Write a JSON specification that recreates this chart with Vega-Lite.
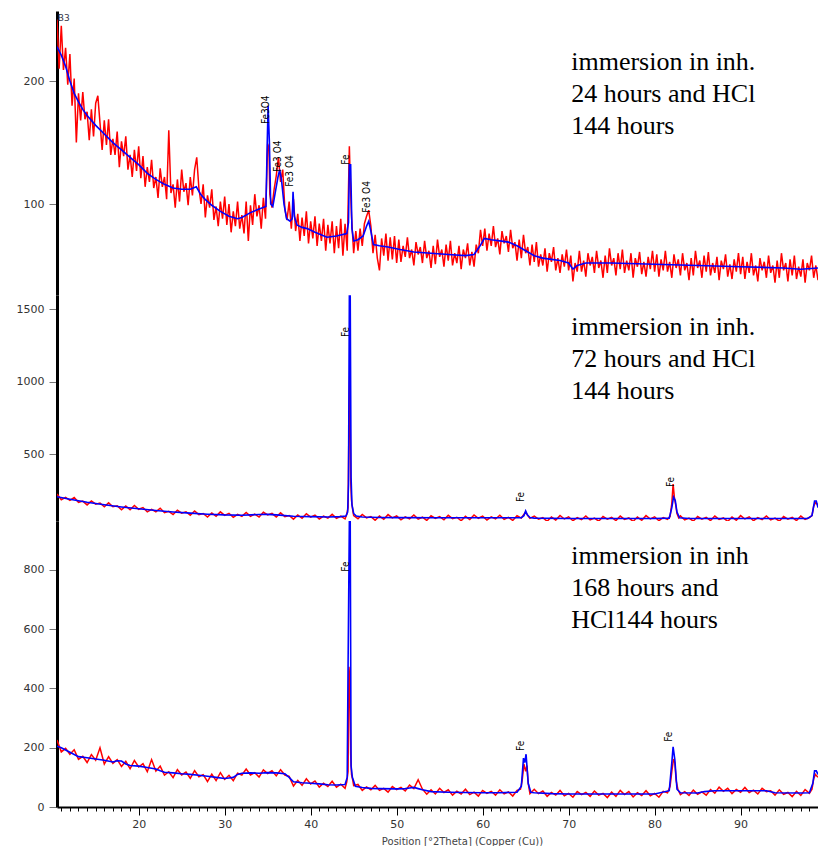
{
"$schema": "https://vega.github.io/schema/vega-lite/v6.json",
"padding": {"left": 16, "top": 11, "right": 0, "bottom": 0},
"spacing": 0,
"bounds": "flush",
"config": {"view": {"stroke": null}, "axis": {"grid": false}},
"datasets": {
"p1r": [{"x":10.5,"y":250},{"x":10.75,"y":210},{"x":11,"y":245},{"x":11.25,"y":209},{"x":11.5,"y":227},{"x":11.75,"y":197},{"x":12,"y":222},{"x":12.25,"y":180},{"x":12.5,"y":202},{"x":12.75,"y":150},{"x":13,"y":190},{"x":13.25,"y":168},{"x":13.5,"y":191},{"x":13.75,"y":169},{"x":14,"y":175},{"x":14.25,"y":152},{"x":14.5,"y":177},{"x":14.75,"y":155},{"x":15,"y":182},{"x":15.25,"y":188},{"x":15.5,"y":166},{"x":15.75,"y":144},{"x":16,"y":168},{"x":16.25,"y":148},{"x":16.5,"y":169},{"x":16.75,"y":140},{"x":17,"y":153},{"x":17.25,"y":140},{"x":17.5,"y":159},{"x":17.75,"y":130},{"x":18,"y":151},{"x":18.25,"y":139},{"x":18.5,"y":155},{"x":18.75,"y":128},{"x":19,"y":140},{"x":19.25,"y":122},{"x":19.5,"y":144},{"x":19.75,"y":127},{"x":20,"y":147},{"x":20.25,"y":121},{"x":20.5,"y":139},{"x":20.75,"y":114},{"x":21,"y":130},{"x":21.25,"y":118},{"x":21.5,"y":136},{"x":21.75,"y":113},{"x":22,"y":122},{"x":22.25,"y":105},{"x":22.5,"y":129},{"x":22.75,"y":114},{"x":23,"y":122},{"x":23.25,"y":104},{"x":23.5,"y":160},{"x":23.75,"y":109},{"x":24,"y":116},{"x":24.25,"y":97},{"x":24.5,"y":120},{"x":24.75,"y":102},{"x":25,"y":128},{"x":25.25,"y":110},{"x":25.5,"y":117},{"x":25.75,"y":99},{"x":26,"y":122},{"x":26.25,"y":107},{"x":26.5,"y":128},{"x":26.75,"y":138},{"x":27,"y":113},{"x":27.25,"y":100},{"x":27.5,"y":116},{"x":27.75,"y":89},{"x":28,"y":107},{"x":28.25,"y":97},{"x":28.5,"y":112},{"x":28.75,"y":87},{"x":29,"y":98},{"x":29.25,"y":82},{"x":29.5,"y":102},{"x":29.75,"y":88},{"x":30,"y":106},{"x":30.25,"y":83},{"x":30.5,"y":100},{"x":30.75,"y":77},{"x":31,"y":94},{"x":31.25,"y":82},{"x":31.5,"y":102},{"x":31.75,"y":80},{"x":32,"y":91},{"x":32.25,"y":76},{"x":32.5,"y":102},{"x":32.75,"y":70},{"x":33,"y":99},{"x":33.25,"y":83},{"x":33.5,"y":108},{"x":33.75,"y":90},{"x":34,"y":99},{"x":34.25,"y":80},{"x":34.5,"y":105},{"x":34.75,"y":88},{"x":35,"y":149},{"x":35.15,"y":145},{"x":35.25,"y":108},{"x":35.5,"y":97},{"x":35.75,"y":112},{"x":36,"y":123},{"x":36.25,"y":138},{"x":36.5,"y":118},{"x":36.75,"y":128},{"x":37,"y":96},{"x":37.25,"y":87},{"x":37.5,"y":102},{"x":37.75,"y":80},{"x":38,"y":104},{"x":38.25,"y":78},{"x":38.5,"y":92},{"x":38.75,"y":70},{"x":39,"y":89},{"x":39.25,"y":74},{"x":39.5,"y":94},{"x":39.75,"y":68},{"x":40,"y":86},{"x":40.25,"y":72},{"x":40.5,"y":90},{"x":40.75,"y":66},{"x":41,"y":84},{"x":41.25,"y":70},{"x":41.5,"y":88},{"x":41.75,"y":62},{"x":42,"y":83},{"x":42.25,"y":68},{"x":42.5,"y":86},{"x":42.75,"y":60},{"x":43,"y":82},{"x":43.25,"y":64},{"x":43.5,"y":88},{"x":43.75,"y":58},{"x":44,"y":84},{"x":44.25,"y":62},{"x":44.5,"y":147},{"x":44.6,"y":120},{"x":44.75,"y":90},{"x":45,"y":60},{"x":45.25,"y":78},{"x":45.5,"y":62},{"x":45.75,"y":80},{"x":46,"y":66},{"x":46.25,"y":84},{"x":46.5,"y":90},{"x":46.75,"y":95},{"x":47,"y":82},{"x":47.25,"y":60},{"x":47.5,"y":75},{"x":47.75,"y":56},{"x":48,"y":46},{"x":48.25,"y":72},{"x":48.5,"y":58},{"x":48.75,"y":76},{"x":49,"y":54},{"x":49.25,"y":73},{"x":49.5,"y":55},{"x":49.75,"y":74},{"x":50,"y":52},{"x":50.25,"y":71},{"x":50.5,"y":53},{"x":50.75,"y":66},{"x":51,"y":57},{"x":51.25,"y":73},{"x":51.5,"y":56},{"x":51.75,"y":63},{"x":52,"y":50},{"x":52.25,"y":69},{"x":52.5,"y":59},{"x":52.75,"y":65},{"x":53,"y":52},{"x":53.25,"y":70},{"x":53.5,"y":56},{"x":53.75,"y":62},{"x":54,"y":48},{"x":54.25,"y":66},{"x":54.5,"y":51},{"x":54.75,"y":71},{"x":55,"y":57},{"x":55.25,"y":63},{"x":55.5,"y":49},{"x":55.75,"y":67},{"x":56,"y":54},{"x":56.25,"y":70},{"x":56.5,"y":50},{"x":56.75,"y":60},{"x":57,"y":52},{"x":57.25,"y":66},{"x":57.5,"y":47},{"x":57.75,"y":63},{"x":58,"y":56},{"x":58.25,"y":68},{"x":58.5,"y":50},{"x":58.75,"y":61},{"x":59,"y":49},{"x":59.25,"y":67},{"x":59.5,"y":60},{"x":59.75,"y":79},{"x":60,"y":66},{"x":60.25,"y":80},{"x":60.5,"y":62},{"x":60.75,"y":76},{"x":61,"y":66},{"x":61.25,"y":82},{"x":61.5,"y":65},{"x":61.75,"y":72},{"x":62,"y":59},{"x":62.25,"y":78},{"x":62.5,"y":68},{"x":62.75,"y":74},{"x":63,"y":61},{"x":63.25,"y":79},{"x":63.5,"y":64},{"x":63.75,"y":69},{"x":64,"y":54},{"x":64.25,"y":71},{"x":64.5,"y":56},{"x":64.75,"y":75},{"x":65,"y":60},{"x":65.25,"y":65},{"x":65.5,"y":50},{"x":65.75,"y":67},{"x":66,"y":53},{"x":66.25,"y":69},{"x":66.5,"y":49},{"x":66.75,"y":59},{"x":67,"y":50},{"x":67.25,"y":64},{"x":67.5,"y":45},{"x":67.75,"y":60},{"x":68,"y":53},{"x":68.25,"y":65},{"x":68.5,"y":46},{"x":68.75,"y":56},{"x":69,"y":44},{"x":69.25,"y":59},{"x":69.5,"y":49},{"x":69.75,"y":63},{"x":70,"y":46},{"x":70.25,"y":58},{"x":70.5,"y":37},{"x":70.75,"y":52},{"x":71,"y":45},{"x":71.25,"y":62},{"x":71.5,"y":45},{"x":71.75,"y":54},{"x":72,"y":41},{"x":72.25,"y":60},{"x":72.5,"y":50},{"x":72.75,"y":57},{"x":73,"y":44},{"x":73.25,"y":62},{"x":73.5,"y":48},{"x":73.75,"y":54},{"x":74,"y":40},{"x":74.25,"y":58},{"x":74.5,"y":44},{"x":74.75,"y":64},{"x":75,"y":50},{"x":75.25,"y":56},{"x":75.5,"y":42},{"x":75.75,"y":60},{"x":76,"y":47},{"x":76.25,"y":63},{"x":76.5,"y":44},{"x":76.75,"y":54},{"x":77,"y":46},{"x":77.25,"y":60},{"x":77.5,"y":40},{"x":77.75,"y":56},{"x":78,"y":49},{"x":78.25,"y":61},{"x":78.5,"y":43},{"x":78.75,"y":53},{"x":79,"y":41},{"x":79.25,"y":57},{"x":79.5,"y":47},{"x":79.75,"y":62},{"x":80,"y":45},{"x":80.25,"y":59},{"x":80.5,"y":41},{"x":80.75,"y":55},{"x":81,"y":46},{"x":81.25,"y":62},{"x":81.5,"y":45},{"x":81.75,"y":53},{"x":82,"y":40},{"x":82.25,"y":59},{"x":82.5,"y":48},{"x":82.75,"y":55},{"x":83,"y":42},{"x":83.25,"y":60},{"x":83.5,"y":46},{"x":83.75,"y":52},{"x":84,"y":38},{"x":84.25,"y":56},{"x":84.5,"y":42},{"x":84.75,"y":62},{"x":85,"y":48},{"x":85.25,"y":54},{"x":85.5,"y":40},{"x":85.75,"y":58},{"x":86,"y":45},{"x":86.25,"y":61},{"x":86.5,"y":42},{"x":86.75,"y":52},{"x":87,"y":44},{"x":87.25,"y":57},{"x":87.5,"y":38},{"x":87.75,"y":54},{"x":88,"y":47},{"x":88.25,"y":59},{"x":88.5,"y":41},{"x":88.75,"y":51},{"x":89,"y":39},{"x":89.25,"y":55},{"x":89.5,"y":45},{"x":89.75,"y":60},{"x":90,"y":43},{"x":90.25,"y":57},{"x":90.5,"y":39},{"x":90.75,"y":53},{"x":91,"y":44},{"x":91.25,"y":60},{"x":91.5,"y":42},{"x":91.75,"y":50},{"x":92,"y":37},{"x":92.25,"y":56},{"x":92.5,"y":46},{"x":92.75,"y":53},{"x":93,"y":40},{"x":93.25,"y":58},{"x":93.5,"y":44},{"x":93.75,"y":50},{"x":94,"y":36},{"x":94.25,"y":54},{"x":94.5,"y":40},{"x":94.75,"y":60},{"x":95,"y":46},{"x":95.25,"y":52},{"x":95.5,"y":37},{"x":95.75,"y":55},{"x":96,"y":42},{"x":96.25,"y":58},{"x":96.5,"y":39},{"x":96.75,"y":49},{"x":97,"y":41},{"x":97.25,"y":55},{"x":97.5,"y":36},{"x":97.75,"y":52},{"x":98,"y":46},{"x":98.25,"y":58},{"x":98.5,"y":40},{"x":98.75,"y":50},{"x":99,"y":38}],
"p1b": [{"x":10.5,"y":228},{"x":11,"y":221},{"x":11.5,"y":212},{"x":12,"y":200},{"x":12.5,"y":190},{"x":13,"y":183},{"x":13.5,"y":177},{"x":14,"y":172},{"x":15,"y":164},{"x":16,"y":157},{"x":17,"y":150},{"x":18,"y":144},{"x":19,"y":138},{"x":20,"y":132},{"x":21,"y":125},{"x":22,"y":120},{"x":23,"y":116},{"x":24,"y":113},{"x":25,"y":112},{"x":26,"y":112},{"x":26.7,"y":114},{"x":27.2,"y":108},{"x":27.7,"y":104},{"x":28.5,"y":99},{"x":29.5,"y":94},{"x":30.5,"y":90},{"x":31.5,"y":88},{"x":32,"y":89},{"x":33,"y":93},{"x":34,"y":96},{"x":34.8,"y":98},{"x":34.95,"y":150},{"x":35.05,"y":180},{"x":35.2,"y":150},{"x":35.35,"y":100},{"x":35.6,"y":98},{"x":35.9,"y":110},{"x":36.2,"y":122},{"x":36.4,"y":128},{"x":36.6,"y":120},{"x":36.9,"y":100},{"x":37.2,"y":88},{"x":37.6,"y":86},{"x":37.85,"y":88},{"x":37.95,"y":110},{"x":38.1,"y":90},{"x":38.4,"y":83},{"x":39,"y":81},{"x":39.6,"y":80},{"x":40.5,"y":77},{"x":41.9,"y":73},{"x":43,"y":74},{"x":44.2,"y":76},{"x":44.4,"y":85},{"x":44.5,"y":132},{"x":44.65,"y":132},{"x":44.8,"y":80},{"x":45,"y":70},{"x":45.5,"y":71},{"x":46.1,"y":74},{"x":46.5,"y":82},{"x":46.75,"y":86},{"x":47,"y":78},{"x":47.3,"y":67},{"x":48,"y":66},{"x":49,"y":65},{"x":50.4,"y":63},{"x":52,"y":61},{"x":54,"y":60},{"x":56,"y":59},{"x":58,"y":58},{"x":59,"y":59},{"x":59.7,"y":66},{"x":60.2,"y":72},{"x":61,"y":71},{"x":62,"y":70},{"x":63,"y":69},{"x":64,"y":66},{"x":65,"y":62},{"x":66,"y":58},{"x":67,"y":56},{"x":68,"y":55},{"x":69,"y":54},{"x":70,"y":52},{"x":70.5,"y":47},{"x":71,"y":50},{"x":72,"y":52},{"x":75,"y":52},{"x":80,"y":51},{"x":85,"y":50},{"x":90,"y":49},{"x":95,"y":48},{"x":97,"y":47},{"x":99,"y":48}],
"p1l": [{"x":34.8,"y":165,"t":"Fe3O4"},{"x":36.2,"y":126,"t":"Fe3 O4"},{"x":37.6,"y":114,"t":"Fe3 O4"},{"x":44.1,"y":132,"t":"Fe"},{"x":46.5,"y":93,"t":"Fe3 O4"}],
"p1t": [{"x":70.3,"y":208.9,"t":"immersion in inh.\n24 hours and HCl\n144 hours"}],
"p1c": [{"x":10.6,"y":251,"t":"B3"}],
"p2r": [{"x":10.5,"y":224},{"x":11,"y":185},{"x":11.5,"y":201},{"x":12,"y":180},{"x":12.5,"y":200},{"x":13,"y":167},{"x":13.5,"y":175},{"x":14,"y":149},{"x":14.5,"y":176},{"x":15,"y":154},{"x":15.5,"y":162},{"x":16,"y":136},{"x":16.5,"y":163},{"x":17,"y":136},{"x":17.5,"y":143},{"x":18,"y":115},{"x":18.5,"y":142},{"x":19,"y":116},{"x":19.5,"y":145},{"x":20,"y":119},{"x":20.5,"y":131},{"x":21,"y":101},{"x":21.5,"y":119},{"x":22,"y":102},{"x":22.5,"y":126},{"x":23,"y":95},{"x":23.5,"y":105},{"x":24,"y":82},{"x":24.5,"y":112},{"x":25,"y":92},{"x":25.5,"y":102},{"x":26,"y":78},{"x":26.5,"y":107},{"x":27,"y":82},{"x":27.5,"y":90},{"x":28,"y":65},{"x":28.5,"y":93},{"x":29,"y":70},{"x":29.5,"y":101},{"x":30,"y":77},{"x":30.5,"y":91},{"x":31,"y":63},{"x":31.5,"y":84},{"x":32,"y":70},{"x":32.5,"y":97},{"x":33,"y":70},{"x":33.5,"y":85},{"x":34,"y":65},{"x":34.5,"y":98},{"x":35,"y":80},{"x":35.5,"y":91},{"x":36,"y":66},{"x":36.5,"y":94},{"x":37,"y":68},{"x":37.5,"y":76},{"x":38,"y":51},{"x":38.5,"y":80},{"x":39,"y":57},{"x":39.5,"y":88},{"x":40,"y":65},{"x":40.5,"y":79},{"x":41,"y":52},{"x":41.5,"y":72},{"x":42,"y":58},{"x":42.5,"y":84},{"x":43,"y":57},{"x":43.5,"y":71},{"x":44,"y":52},{"x":44.2,"y":85},{"x":44.35,"y":130},{"x":44.45,"y":700},{"x":44.55,"y":1100},{"x":44.65,"y":320},{"x":44.75,"y":180},{"x":44.9,"y":110},{"x":45,"y":75},{"x":45.5,"y":54},{"x":46,"y":83},{"x":46.5,"y":59},{"x":47,"y":68},{"x":47.5,"y":43},{"x":48,"y":72},{"x":48.5,"y":50},{"x":49,"y":82},{"x":49.5,"y":59},{"x":50,"y":73},{"x":50.5,"y":46},{"x":51,"y":67},{"x":51.5,"y":53},{"x":52,"y":79},{"x":52.5,"y":51},{"x":53,"y":64},{"x":53.5,"y":42},{"x":54,"y":74},{"x":54.5,"y":56},{"x":55,"y":68},{"x":55.5,"y":46},{"x":56,"y":77},{"x":56.5,"y":54},{"x":57,"y":64},{"x":57.5,"y":40},{"x":58,"y":70},{"x":58.5,"y":48},{"x":59,"y":80},{"x":59.5,"y":57},{"x":60,"y":72},{"x":60.5,"y":45},{"x":61,"y":66},{"x":61.5,"y":52},{"x":62,"y":78},{"x":62.5,"y":50},{"x":63,"y":63},{"x":63.5,"y":42},{"x":64,"y":74},{"x":64.5,"y":58},{"x":64.75,"y":80},{"x":65,"y":100},{"x":65.25,"y":75},{"x":65.5,"y":56},{"x":66,"y":72},{"x":66.5,"y":51},{"x":67,"y":61},{"x":67.5,"y":36},{"x":68,"y":66},{"x":68.5,"y":44},{"x":69,"y":76},{"x":69.5,"y":52},{"x":70,"y":67},{"x":70.5,"y":40},{"x":71,"y":61},{"x":71.5,"y":47},{"x":72,"y":73},{"x":72.5,"y":45},{"x":73,"y":58},{"x":73.5,"y":37},{"x":74,"y":69},{"x":74.5,"y":51},{"x":75,"y":63},{"x":75.5,"y":41},{"x":76,"y":72},{"x":76.5,"y":49},{"x":77,"y":59},{"x":77.5,"y":35},{"x":78,"y":65},{"x":78.5,"y":43},{"x":79,"y":75},{"x":79.5,"y":52},{"x":80,"y":67},{"x":80.5,"y":40},{"x":81,"y":62},{"x":81.5,"y":50},{"x":81.8,"y":70},{"x":82,"y":160},{"x":82.15,"y":293},{"x":82.3,"y":200},{"x":82.45,"y":150},{"x":82.6,"y":90},{"x":82.8,"y":60},{"x":83,"y":73},{"x":83.5,"y":45},{"x":84,"y":58},{"x":84.5,"y":37},{"x":85,"y":69},{"x":85.5,"y":51},{"x":86,"y":63},{"x":86.5,"y":41},{"x":87,"y":72},{"x":87.5,"y":49},{"x":88,"y":59},{"x":88.5,"y":35},{"x":89,"y":65},{"x":89.5,"y":43},{"x":90,"y":75},{"x":90.5,"y":52},{"x":91,"y":67},{"x":91.5,"y":40},{"x":92,"y":61},{"x":92.5,"y":47},{"x":93,"y":73},{"x":93.5,"y":45},{"x":94,"y":58},{"x":94.5,"y":37},{"x":95,"y":69},{"x":95.5,"y":51},{"x":96,"y":63},{"x":96.5,"y":41},{"x":97,"y":72},{"x":97.5,"y":49},{"x":98,"y":62},{"x":98.3,"y":75},{"x":98.5,"y":140},{"x":98.7,"y":165},{"x":99,"y":150}],
"p2b": [{"x":10.5,"y":205},{"x":12,"y":188},{"x":14,"y":167},{"x":16,"y":150},{"x":18,"y":135},{"x":20,"y":122},{"x":22,"y":110},{"x":24,"y":100},{"x":26,"y":92},{"x":28,"y":85},{"x":30,"y":80},{"x":32,"y":78},{"x":34,"y":83},{"x":35,"y":84},{"x":36,"y":80},{"x":38,"y":71},{"x":40,"y":68},{"x":42,"y":66},{"x":43.5,"y":68},{"x":44.1,"y":72},{"x":44.3,"y":100},{"x":44.4,"y":293},{"x":44.5,"y":1590},{"x":44.6,"y":1590},{"x":44.7,"y":340},{"x":44.8,"y":150},{"x":45,"y":90},{"x":45.3,"y":72},{"x":46,"y":66},{"x":48,"y":62},{"x":50,"y":61},{"x":55,"y":60},{"x":60,"y":60},{"x":64.5,"y":61},{"x":64.8,"y":75},{"x":65,"y":107},{"x":65.2,"y":80},{"x":65.5,"y":62},{"x":66,"y":58},{"x":70,"y":55},{"x":75,"y":55},{"x":80,"y":55},{"x":81.7,"y":58},{"x":82,"y":130},{"x":82.2,"y":203},{"x":82.4,"y":180},{"x":82.6,"y":100},{"x":82.9,"y":60},{"x":84,"y":55},{"x":90,"y":55},{"x":95,"y":55},{"x":97.8,"y":56},{"x":98.3,"y":75},{"x":98.6,"y":176},{"x":98.8,"y":176},{"x":99,"y":130}],
"p2l": [{"x":44.1,"y":1307,"t":"Fe"},{"x":64.5,"y":169,"t":"Fe"},{"x":81.9,"y":272,"t":"Fe"}],
"p2t": [{"x":70.3,"y":1321,"t":"immersion in inh.\n72 hours and HCl\n144 hours"}],
"p3r": [{"x":10.5,"y":226},{"x":11,"y":186},{"x":11.5,"y":198},{"x":12,"y":178},{"x":12.5,"y":193},{"x":13,"y":161},{"x":13.5,"y":171},{"x":14,"y":150},{"x":14.5,"y":177},{"x":15,"y":158},{"x":15.5,"y":200},{"x":16,"y":145},{"x":16.5,"y":170},{"x":17,"y":147},{"x":17.5,"y":160},{"x":18,"y":137},{"x":18.5,"y":154},{"x":19,"y":129},{"x":19.5,"y":157},{"x":20,"y":135},{"x":20.5,"y":146},{"x":21,"y":119},{"x":21.5,"y":160},{"x":22,"y":121},{"x":22.5,"y":138},{"x":23,"y":108},{"x":23.5,"y":119},{"x":24,"y":99},{"x":24.5,"y":126},{"x":25,"y":108},{"x":25.5,"y":118},{"x":26,"y":97},{"x":26.5,"y":123},{"x":27,"y":102},{"x":27.5,"y":109},{"x":28,"y":86},{"x":28.5,"y":111},{"x":29,"y":89},{"x":29.5,"y":116},{"x":30,"y":93},{"x":30.5,"y":107},{"x":31,"y":89},{"x":31.5,"y":114},{"x":32,"y":108},{"x":32.5,"y":128},{"x":33,"y":108},{"x":33.5,"y":116},{"x":34,"y":101},{"x":34.5,"y":125},{"x":35,"y":113},{"x":35.5,"y":122},{"x":36,"y":105},{"x":36.5,"y":126},{"x":37,"y":108},{"x":37.5,"y":103},{"x":38,"y":71},{"x":38.5,"y":90},{"x":39,"y":73},{"x":39.5,"y":95},{"x":40,"y":78},{"x":40.5,"y":88},{"x":41,"y":67},{"x":41.5,"y":80},{"x":42,"y":69},{"x":42.5,"y":87},{"x":43,"y":67},{"x":43.5,"y":77},{"x":44,"y":63},{"x":44.2,"y":85},{"x":44.35,"y":120},{"x":44.45,"y":473},{"x":44.55,"y":432},{"x":44.65,"y":179},{"x":44.75,"y":110},{"x":44.9,"y":90},{"x":45,"y":72},{"x":45.5,"y":76},{"x":46,"y":56},{"x":46.5,"y":68},{"x":47,"y":58},{"x":47.5,"y":73},{"x":48,"y":56},{"x":48.5,"y":63},{"x":49,"y":50},{"x":49.5,"y":69},{"x":50,"y":59},{"x":50.5,"y":66},{"x":51,"y":54},{"x":51.5,"y":74},{"x":52,"y":62},{"x":52.5,"y":92},{"x":53,"y":60},{"x":53.5,"y":43},{"x":54,"y":58},{"x":54.5,"y":44},{"x":55,"y":63},{"x":55.5,"y":49},{"x":56,"y":58},{"x":56.5,"y":40},{"x":57,"y":53},{"x":57.5,"y":44},{"x":58,"y":60},{"x":58.5,"y":42},{"x":59,"y":50},{"x":59.5,"y":37},{"x":60,"y":56},{"x":60.5,"y":46},{"x":61,"y":53},{"x":61.5,"y":40},{"x":62,"y":58},{"x":62.5,"y":44},{"x":63,"y":51},{"x":63.5,"y":37},{"x":64,"y":56},{"x":64.4,"y":60},{"x":64.6,"y":90},{"x":64.8,"y":145},{"x":65,"y":120},{"x":65.15,"y":140},{"x":65.3,"y":80},{"x":65.5,"y":45},{"x":66,"y":60},{"x":66.5,"y":45},{"x":67,"y":54},{"x":67.5,"y":36},{"x":68,"y":49},{"x":68.5,"y":40},{"x":69,"y":56},{"x":69.5,"y":38},{"x":70,"y":46},{"x":70.5,"y":33},{"x":71,"y":52},{"x":71.5,"y":42},{"x":72,"y":49},{"x":72.5,"y":36},{"x":73,"y":54},{"x":73.5,"y":40},{"x":74,"y":46},{"x":74.5,"y":32},{"x":75,"y":50},{"x":75.5,"y":36},{"x":76,"y":56},{"x":76.5,"y":42},{"x":77,"y":52},{"x":77.5,"y":34},{"x":78,"y":48},{"x":78.5,"y":39},{"x":79,"y":55},{"x":79.5,"y":38},{"x":80,"y":46},{"x":80.5,"y":33},{"x":81,"y":53},{"x":81.5,"y":48},{"x":81.8,"y":70},{"x":82,"y":120},{"x":82.2,"y":162},{"x":82.35,"y":150},{"x":82.5,"y":90},{"x":82.7,"y":60},{"x":83,"y":42},{"x":83.5,"y":52},{"x":84,"y":39},{"x":84.5,"y":57},{"x":85,"y":43},{"x":85.5,"y":51},{"x":86,"y":40},{"x":86.5,"y":59},{"x":87,"y":47},{"x":87.5,"y":67},{"x":88,"y":53},{"x":88.5,"y":63},{"x":89,"y":45},{"x":89.5,"y":59},{"x":90,"y":50},{"x":90.5,"y":66},{"x":91,"y":49},{"x":91.5,"y":57},{"x":92,"y":44},{"x":92.5,"y":63},{"x":93,"y":52},{"x":93.5,"y":55},{"x":94,"y":40},{"x":94.5,"y":58},{"x":95,"y":43},{"x":95.5,"y":49},{"x":96,"y":35},{"x":96.5,"y":53},{"x":97,"y":39},{"x":97.5,"y":59},{"x":98,"y":46},{"x":98.3,"y":60},{"x":98.5,"y":95},{"x":98.7,"y":110},{"x":99,"y":100}],
"p3b": [{"x":10.5,"y":205},{"x":11,"y":200},{"x":12,"y":185},{"x":13,"y":170},{"x":14,"y":166},{"x":15,"y":162},{"x":16,"y":158},{"x":17,"y":152},{"x":17.5,"y":156},{"x":18,"y":155},{"x":18.5,"y":145},{"x":19,"y":140},{"x":20,"y":138},{"x":21,"y":133},{"x":22,"y":128},{"x":22.5,"y":122},{"x":23,"y":117},{"x":24,"y":115},{"x":25,"y":112},{"x":26,"y":110},{"x":27,"y":107},{"x":28,"y":104},{"x":29,"y":100},{"x":30,"y":96},{"x":30.5,"y":98},{"x":31,"y":100},{"x":31.5,"y":110},{"x":32,"y":114},{"x":33,"y":115},{"x":34,"y":114},{"x":35,"y":116},{"x":36,"y":115},{"x":37,"y":112},{"x":37.5,"y":100},{"x":38,"y":85},{"x":39,"y":82},{"x":40,"y":80},{"x":41,"y":78},{"x":42,"y":75},{"x":43,"y":74},{"x":44,"y":76},{"x":44.25,"y":100},{"x":44.35,"y":473},{"x":44.5,"y":965},{"x":44.6,"y":965},{"x":44.7,"y":139},{"x":44.85,"y":100},{"x":45.2,"y":70},{"x":46,"y":66},{"x":47,"y":63},{"x":48,"y":62},{"x":50,"y":61},{"x":51,"y":62},{"x":51.5,"y":64},{"x":52,"y":66},{"x":52.5,"y":62},{"x":53,"y":58},{"x":54,"y":52},{"x":56,"y":50},{"x":58,"y":49},{"x":60,"y":48},{"x":62,"y":48},{"x":64,"y":50},{"x":64.5,"y":70},{"x":64.75,"y":165},{"x":64.9,"y":150},{"x":65.05,"y":178},{"x":65.3,"y":80},{"x":65.6,"y":50},{"x":66,"y":48},{"x":68,"y":45},{"x":70,"y":44},{"x":72,"y":44},{"x":75,"y":44},{"x":78,"y":44},{"x":80,"y":44},{"x":81.7,"y":55},{"x":82,"y":150},{"x":82.15,"y":203},{"x":82.35,"y":160},{"x":82.6,"y":60},{"x":83,"y":48},{"x":85,"y":47},{"x":85.8,"y":52},{"x":87,"y":55},{"x":90,"y":55},{"x":93,"y":55},{"x":94,"y":48},{"x":97,"y":47},{"x":98,"y":48},{"x":98.4,"y":80},{"x":98.6,"y":122},{"x":98.8,"y":122},{"x":99,"y":110}],
"p3l": [{"x":44.1,"y":794,"t":"Fe"},{"x":64.5,"y":189,"t":"Fe"},{"x":81.7,"y":220,"t":"Fe"}],
"p3t": [{"x":70.3,"y":821,"t":"immersion in inh\n168 hours and\nHCl144 hours"}]
},
"vconcat": [
{
"width": 761, "height": 284,
"encoding": {
"x": {"field": "x", "type": "quantitative", "scale": {"domain": [10.5, 99], "nice": false, "zero": false}, "axis": null},
"y": {"field": "y", "type": "quantitative", "scale": {"domain": [26, 257], "nice": false, "zero": false}, "axis": {"title": null, "format": "d", "values": [100, 200], "tickSize": 8, "tickColor": "#777", "domainColor": "#000", "domainWidth": 3, "labelColor": "#333", "labelFont": "DejaVu Sans", "labelFontSize": 11, "labelPadding": 5}}
},
"layer": [
{"data": {"name": "p1r"}, "mark": {"type": "line", "color": "#ff0000", "strokeWidth": 1.5, "clip": true},
 "encoding": {"x": {"field": "x", "type": "quantitative", "scale": {"domain": [10.5, 99], "nice": false, "zero": false}, "axis": {"orient": "top", "title": null, "labels": false, "ticks": false, "domainColor": "#000", "domainWidth": 2}}}},
{"data": {"name": "p1b"}, "mark": {"type": "line", "color": "#0000ff", "strokeWidth": 1.6, "clip": true}},
{"data": {"name": "p1l"}, "mark": {"type": "text", "angle": 270, "align": "left", "baseline": "middle", "font": "DejaVu Sans Condensed", "fontSize": 10, "color": "#000"}, "encoding": {"text": {"field": "t"}}},
{"data": {"name": "p1c"}, "mark": {"type": "text", "align": "left", "baseline": "middle", "font": "DejaVu Sans", "fontSize": 9, "color": "#334"}, "encoding": {"text": {"field": "t"}}},
{"data": {"name": "p1t"}, "mark": {"type": "text", "align": "left", "baseline": "alphabetic", "font": "Liberation Serif", "fontSize": 26, "lineHeight": 32, "lineBreak": "\n", "color": "#000"}, "encoding": {"text": {"field": "t"}}}
]
},
{
"width": 761, "height": 226,
"encoding": {
"x": {"field": "x", "type": "quantitative", "scale": {"domain": [10.5, 99], "nice": false, "zero": false}, "axis": null},
"y": {"field": "y", "type": "quantitative", "scale": {"domain": [38, 1597], "nice": false, "zero": false}, "axis": {"title": null, "format": "d", "values": [500, 1000, 1500], "tickSize": 8, "tickColor": "#777", "domainColor": "#000", "domainWidth": 3, "labelColor": "#333", "labelFont": "DejaVu Sans", "labelFontSize": 11, "labelPadding": 5}}
},
"layer": [
{"data": {"name": "p2r"}, "mark": {"type": "line", "color": "#ff0000", "strokeWidth": 1.5, "clip": true}},
{"data": {"name": "p2b"}, "mark": {"type": "line", "color": "#0000ff", "strokeWidth": 1.6, "clip": true}},
{"data": {"name": "p2l"}, "mark": {"type": "text", "angle": 270, "align": "left", "baseline": "middle", "font": "DejaVu Sans Condensed", "fontSize": 10, "color": "#000"}, "encoding": {"text": {"field": "t"}}},
{"data": {"name": "p2t"}, "mark": {"type": "text", "align": "left", "baseline": "alphabetic", "font": "Liberation Serif", "fontSize": 26, "lineHeight": 32, "lineBreak": "\n", "color": "#000"}, "encoding": {"text": {"field": "t"}}}
]
},
{
"width": 761, "height": 286,
"encoding": {
"x": {"field": "x", "type": "quantitative", "scale": {"domain": [10.5, 99], "nice": false, "zero": false}, "axis": null},
"y": {"field": "y", "type": "quantitative", "scale": {"domain": [0, 965], "nice": false, "zero": false}, "axis": {"title": null, "format": "d", "values": [0, 200, 400, 600, 800], "tickSize": 8, "tickColor": "#777", "domainColor": "#000", "domainWidth": 3, "labelColor": "#333", "labelFont": "DejaVu Sans", "labelFontSize": 11, "labelPadding": 5}}
},
"resolve": {"axis": {"x": "independent"}},
"layer": [
{"data": {"name": "p3r"}, "mark": {"type": "line", "color": "#ff0000", "strokeWidth": 1.5, "clip": true},
 "encoding": {"x": {"field": "x", "type": "quantitative", "scale": {"domain": [10.5, 99], "nice": false, "zero": false}, "axis": {"orient": "bottom", "title": null, "labels": false, "domain": false, "tickSize": 4, "tickColor": "#000", "values": [11,12,13,14,15,16,17,18,19,21,22,23,24,25,26,27,28,29,31,32,33,34,35,36,37,38,39,41,42,43,44,45,46,47,48,49,51,52,53,54,55,56,57,58,59,61,62,63,64,65,66,67,68,69,71,72,73,74,75,76,77,78,79,81,82,83,84,85,86,87,88,89,91,92,93,94,95,96,97,98,99]}}}},
{"data": {"name": "p3b"}, "mark": {"type": "line", "color": "#0000ff", "strokeWidth": 1.6, "clip": true},
 "encoding": {"x": {"field": "x", "type": "quantitative", "scale": {"domain": [10.5, 99], "nice": false, "zero": false}, "axis": {"orient": "bottom", "title": "Position [°2Theta] (Copper (Cu))", "values": [20, 30, 40, 50, 60, 70, 80, 90], "tickSize": 8, "tickColor": "#000", "domainColor": "#000", "domainWidth": 2, "labelColor": "#333", "labelFont": "DejaVu Sans", "labelFontSize": 11, "labelPadding": 3, "titleFont": "DejaVu Sans", "titleFontSize": 10, "titleFontWeight": "normal", "titleColor": "#444", "titleX": 405, "titleY": 34, "titleAlign": "center", "titleBaseline": "middle"}}}},
{"data": {"name": "p3l"}, "mark": {"type": "text", "angle": 270, "align": "left", "baseline": "middle", "font": "DejaVu Sans Condensed", "fontSize": 10, "color": "#000"}, "encoding": {"text": {"field": "t"}}},
{"data": {"name": "p3t"}, "mark": {"type": "text", "align": "left", "baseline": "alphabetic", "font": "Liberation Serif", "fontSize": 26, "lineHeight": 32, "lineBreak": "\n", "color": "#000"}, "encoding": {"text": {"field": "t"}}}
]
}
]
}
